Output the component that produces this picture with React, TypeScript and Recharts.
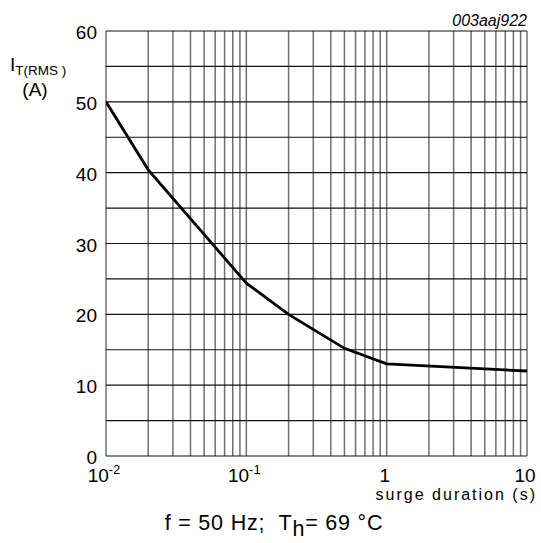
import React from "react";
import { LineChart, Line, XAxis, YAxis, CartesianGrid } from "recharts";

const durations = [0.01, 0.02, 0.1, 0.2, 0.5, 1, 10];
const currents = [50, 40.4, 24.4, 20, 15.2, 13, 12];

const xGridTicks = [
  0.01, 0.02, 0.03, 0.04, 0.05, 0.06, 0.07, 0.08, 0.09,
  0.1, 0.2, 0.3, 0.4, 0.5, 0.6, 0.7, 0.8, 0.9,
  1, 2, 3, 4, 5, 6, 7, 8, 9, 10,
];
const xDecades = [0.01, 0.1, 1, 10];
const xDecadeBase = ["10", "10", "1", "10"];
const xDecadeExp = ["-2", "-1", "", ""];

const yTicks = [0, 5, 10, 15, 20, 25, 30, 35, 40, 45, 50, 55, 60];
const yLabelled = [0, 10, 20, 30, 40, 50, 60];

const data = durations.map((d, i) => ({ x: d, y: currents[i] }));

const FONT = "'Liberation Sans', Arial, Helvetica, sans-serif";

const XTick = (props: any) => {
  const { x, payload } = props;
  const idx = xDecades.findIndex((d) => Math.abs(d - payload.value) < 1e-9);
  if (idx < 0) return null;
  const exp = xDecadeExp[idx];
  return (
    <text
      x={x - 2}
      y={482}
      textAnchor="middle"
      fontFamily={FONT}
      fontSize={19}
      fill="#000"
    >
      {xDecadeBase[idx]}
      {exp ? (
        <tspan fontSize={13} dy={-8}>
          {exp}
        </tspan>
      ) : null}
    </text>
  );
};

const YTick = (props: any) => {
  const { y, payload } = props;
  if (!yLabelled.includes(payload.value)) return null;
  return (
    <text
      x={97}
      y={y + 8}
      textAnchor="end"
      fontFamily={FONT}
      fontSize={19}
      fill="#000"
    >
      {payload.value}
    </text>
  );
};

export default function App() {
  return (
    <div
      style={{
        position: "absolute",
        left: 0,
        top: 0,
        width: 541,
        height: 543,
        background: "#fff",
      }}
    >
      <LineChart
        width={541}
        height={543}
        data={data}
        margin={{ top: 31, right: 14, bottom: 57, left: 0 }}
      >
        <CartesianGrid
          horizontal={false}
          vertical={true}
          stroke="#707070"
          strokeWidth={1.5}
        />
        <CartesianGrid
          horizontal={true}
          vertical={false}
          stroke="#111"
          strokeWidth={1.2}
        />
        <XAxis
          dataKey="x"
          type="number"
          scale="log"
          domain={[0.01, 10]}
          ticks={xGridTicks}
          interval={0}
          allowDataOverflow
          axisLine={false}
          tickLine={false}
          height={30}
          tick={<XTick />}
        />
        <YAxis
          type="number"
          domain={[0, 60]}
          ticks={yTicks}
          interval={0}
          axisLine={false}
          tickLine={false}
          width={106}
          tick={<YTick />}
        />
        <Line
          type="linear"
          dataKey="y"
          stroke="#000"
          strokeWidth={2.8}
          dot={false}
          isAnimationActive={false}
        />
      </LineChart>
      <svg
        width={541}
        height={543}
        style={{ position: "absolute", left: 0, top: 0, pointerEvents: "none" }}
      >
        <text
          x={527}
          y={26}
          textAnchor="end"
          fontFamily={FONT}
          fontSize={16}
          fontStyle="italic"
          fill="#000"
        >
          003aaj922
        </text>
        <text x={10} y={71} fontFamily={FONT} fontSize={19} fill="#000">
          I
          <tspan fontSize={13.5} dy={4} style={{ whiteSpace: "pre" }}>
            {"T(RMS )"}
          </tspan>
        </text>
        <text
          x={35}
          y={96}
          textAnchor="middle"
          fontFamily={FONT}
          fontSize={19}
          fill="#000"
        >
          (A)
        </text>
        <text
          x={537}
          y={500}
          textAnchor="end"
          fontFamily={FONT}
          fontSize={16}
          letterSpacing={2}
          fill="#000"
        >
          surge duration (s)
        </text>
        <text
          x={274}
          y={530}
          textAnchor="middle"
          fontFamily={FONT}
          fontSize={21.5}
          letterSpacing={0.8}
          fill="#000"
          style={{ whiteSpace: "pre" }}
        >
          {"f = 50 Hz;  T"}
          <tspan dy={6}>h</tspan>
          <tspan dy={-6}>{"= 69 °C"}</tspan>
        </text>
      </svg>
    </div>
  );
}
